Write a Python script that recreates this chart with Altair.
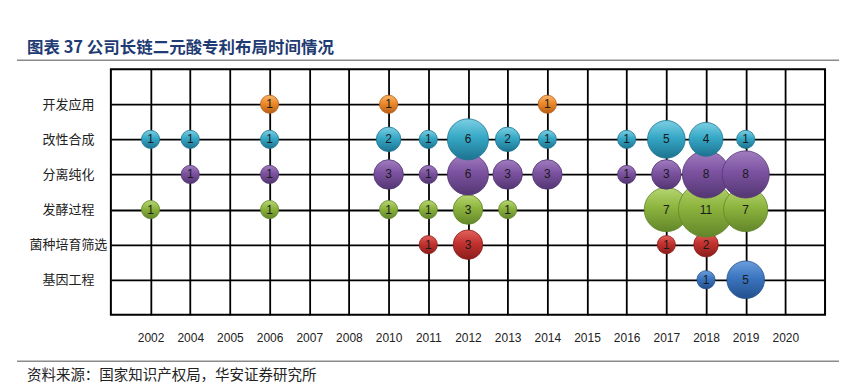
import altair as alt
import pandas as pd

# ---- data ----
years = ["2002", "2004", "2005", "2006", "2007", "2008", "2010", "2011", "2012",
         "2013", "2014", "2015", "2016", "2017", "2018", "2019", "2020"]
categories = ["开发应用", "改性合成", "分离纯化", "发酵过程", "菌种培育筛选", "基因工程"]

kaifa_years = ["2006", "2010", "2014"]
kaifa_vals = [1, 1, 1]

gaixing_years = ["2002", "2004", "2006", "2010", "2011", "2012", "2013", "2014", "2016", "2017", "2018", "2019"]
gaixing_vals = [1, 1, 1, 2, 1, 6, 2, 1, 1, 5, 4, 1]

fenli_years = ["2004", "2006", "2010", "2011", "2012", "2013", "2014", "2016", "2017", "2018", "2019"]
fenli_vals = [1, 1, 3, 1, 6, 3, 3, 1, 3, 8, 8]

fajiao_years = ["2002", "2006", "2010", "2011", "2012", "2013", "2017", "2018", "2019"]
fajiao_vals = [1, 1, 1, 1, 3, 1, 7, 11, 7]

junzhong_years = ["2011", "2012", "2017", "2018"]
junzhong_vals = [1, 3, 1, 2]

jiyin_years = ["2018", "2019"]
jiyin_vals = [1, 5]

series = {
    "开发应用": (kaifa_years, kaifa_vals),
    "改性合成": (gaixing_years, gaixing_vals),
    "分离纯化": (fenli_years, fenli_vals),
    "发酵过程": (fajiao_years, fajiao_vals),
    "菌种培育筛选": (junzhong_years, junzhong_vals),
    "基因工程": (jiyin_years, jiyin_vals),
}

# light / base / dark shades per series
palette = {
    "开发应用": ("#F7B46A", "#EC8A2B", "#B85F17"),
    "改性合成": ("#7CCFE3", "#36A8C6", "#1D7390"),
    "分离纯化": ("#A17DC0", "#7C52A0", "#533672"),
    "发酵过程": ("#B6D672", "#8DB43E", "#62862A"),
    "菌种培育筛选": ("#E2625B", "#C2322F", "#8A1D1B"),
    "基因工程": ("#6B9DDB", "#3B75C0", "#234F8C"),
}

rows = []
for cat, (ys, vs) in series.items():
    for y, v in zip(ys, vs):
        rows.append({"year": y, "cat": cat, "value": v})
df = pd.DataFrame(rows)

W, H = 715, 246

x_enc = alt.X("year:N", sort=years, scale=alt.Scale(type="point", padding=1, domain=years),
              axis=alt.Axis(title=None, grid=True, gridColor="#000000", gridWidth=1.8,
                            domain=False, ticks=False, labelFontSize=12, labelColor="#222222",
                            labelFont="Liberation Sans", labelPadding=18, labelAngle=0))
y_enc = alt.Y("cat:N", sort=categories, scale=alt.Scale(type="point", padding=1, domain=categories),
              axis=alt.Axis(title=None, grid=True, gridColor="#000000", gridWidth=1.8,
                            domain=False, ticks=False, labelFontSize=13, labelColor="#222222",
                            labelFont="Noto Sans CJK SC", labelAlign="center",
                            labelBaseline="middle", labelPadding=43))
size_enc = alt.Size("value:Q", scale=alt.Scale(domain=[0, 11], range=[60, 3050], zero=False),
                    legend=None)

layers = []
# draw bottom rows first, top rows last
for cat in reversed(categories):
    light, base, dark = palette[cat]
    grad = alt.LinearGradient(
        gradient="linear", x1=0, y1=0, x2=0, y2=1,
        stops=[alt.GradientStop(offset=0, color=light),
               alt.GradientStop(offset=0.45, color=base),
               alt.GradientStop(offset=1, color=dark)])
    layers.append(
        alt.Chart(df).transform_filter(alt.datum.cat == cat)
        .mark_circle(fill=grad, stroke=dark, strokeWidth=0.8, opacity=1)
        .encode(x=x_enc, y=y_enc, size=size_enc)
    )

labels = alt.Chart(df).mark_text(fontSize=12, font="Liberation Sans", color="#1a1a1a",
                                  baseline="middle", align="center").encode(
    x=x_enc, y=y_enc, text="value:Q")

one = pd.DataFrame({"k": [0]})
title = alt.Chart(one).mark_text(text="图表 37  公司长链二元酸专利布局时间情况", fontSize=16.5,
                                 fontWeight="bold", font="Noto Sans CJK SC", color="#1F3B73",
                                 align="left", baseline="middle").encode(
    x=alt.value(-84), y=alt.value(-21))
top_rule = alt.Chart(one).mark_rule(color="#8a8a8a", strokeWidth=1.5).encode(
    x=alt.value(-94), x2=alt.value(729), y=alt.value(-9))
bottom_rule = alt.Chart(one).mark_rule(color="#8a8a8a", strokeWidth=1.5).encode(
    x=alt.value(-94), x2=alt.value(729), y=alt.value(292.5))
footer = alt.Chart(one).mark_text(text="资料来源：国家知识产权局，华安证券研究所", fontSize=14.5,
                                  font="Noto Sans CJK SC", color="#222222",
                                  align="left", baseline="middle").encode(
    x=alt.value(-84), y=alt.value(307))

chart = alt.layer(*layers, labels, title, top_rule, bottom_rule, footer).properties(
    width=W, height=H,
    autosize=alt.AutoSizeParams(type="none"),
    padding={"left": 103, "top": 61, "right": 30, "bottom": 70},
    background="white",
).configure_view(stroke="#000000", strokeWidth=2)

chart.save("out.html", embed_options={"renderer": "svg", "actions": False})
